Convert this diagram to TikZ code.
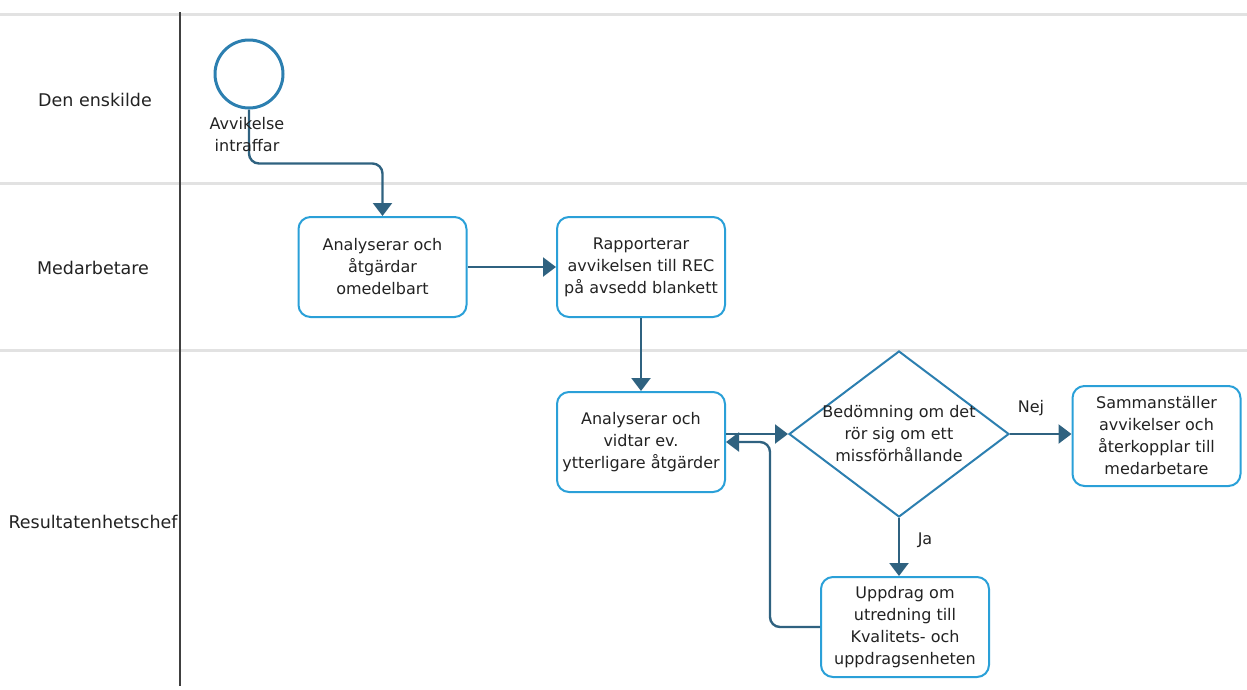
\documentclass[tikz,border=0pt]{standalone}
\usepackage{fontspec}
\setmainfont{DejaVu Sans}
\usetikzlibrary{arrows.meta,shapes.geometric}
\definecolor{boxc}{HTML}{2AA0D8}
\definecolor{connc}{HTML}{2F6280}
\definecolor{txtc}{HTML}{222222}
\definecolor{lanec}{HTML}{E2E2E2}
\definecolor{diac}{HTML}{2C7FB0}
\tikzset{
  box/.style={draw=boxc, line width=2pt, rounded corners=12pt, minimum width=168pt, minimum height=100pt, align=center, text=txtc, font=\fontsize{16}{22}\selectfont, inner sep=2pt},
  conn/.style={draw=connc, line width=2.4pt, -{Triangle[width=19pt,length=13pt]}},
  lanelbl/.style={text=txtc, font=\fontsize{17.5}{20}\selectfont},
  lane/.style={draw=lanec, line width=3pt},
  lbl/.style={text=txtc, font=\fontsize{16}{22}\selectfont, align=center}
}
\begin{document}
\begin{tikzpicture}[x=1pt,y=-1pt]
\useasboundingbox (0,0) rectangle (1247,689);
% lanes
\draw[lane] (0,14) -- (1247,14);
\draw[lane] (0,183) -- (1247,183);
\draw[lane] (0,350) -- (1247,350);
\draw[draw=black!75, line width=1.2pt] (180,12) -- (180,686);
\node[lanelbl] (l1) at (95,100) {Den enskilde};
\node[lanelbl] (l2) at (93,268) {Medarbetare};
\node[lanelbl] (l3) at (93,522) {Resultatenhetschef};
% nodes
\node[circle, draw=diac, line width=3pt, minimum size=68pt, inner sep=0] (start) at (249,74) {};
\node[box] (b1) at (382.5,267) {Analyserar och\\åtgärdar\\omedelbart};
\node[box] (b2) at (641,267) {Rapporterar\\avvikelsen till REC\\på avsedd blankett};
\node[box] (b3) at (641,442) {Analyserar och\\vidtar ev.\\ytterligare åtgärder};
\node[diamond, draw=diac, line width=2pt, minimum width=220pt, minimum height=166pt, inner sep=0] (dia) at (899,434) {};
\node[lbl] (diatxt) at (dia.center) {Bedömning om det\\rör sig om ett\\missförhållande};
\node[box] (b4) at (1156.5,436) {Sammanställer\\avvikelser och\\återkopplar till\\medarbetare};
\node[box] (b5) at (905,627) {Uppdrag om\\utredning till\\Kvalitets- och\\uppdragsenheten};
% connectors
\draw[conn, rounded corners=10pt] (start.south) -- ++(0,54) -| (b1.north);
\node[lbl] (startlbl) at (247,135) {Avvikelse\\intraffar};
\draw[conn] (b1.east) -- (b2.west);
\draw[conn] (b2.south) -- (b3.north);
\draw[conn] (dia.west -| b3.east) -- (dia.west);
\draw[conn] (dia.east) -- (b4.west |- dia.east);
\draw[conn] (dia.south) -- (dia.south |- b5.north);
\draw[conn, rounded corners=10pt] (b5.west) -- ++(-50,0) |- (b3.east);
\node[lbl] (nej) at (1031,408) {Nej};
\node[lbl] (ja) at (925,540) {Ja};
\end{tikzpicture}
\end{document}
